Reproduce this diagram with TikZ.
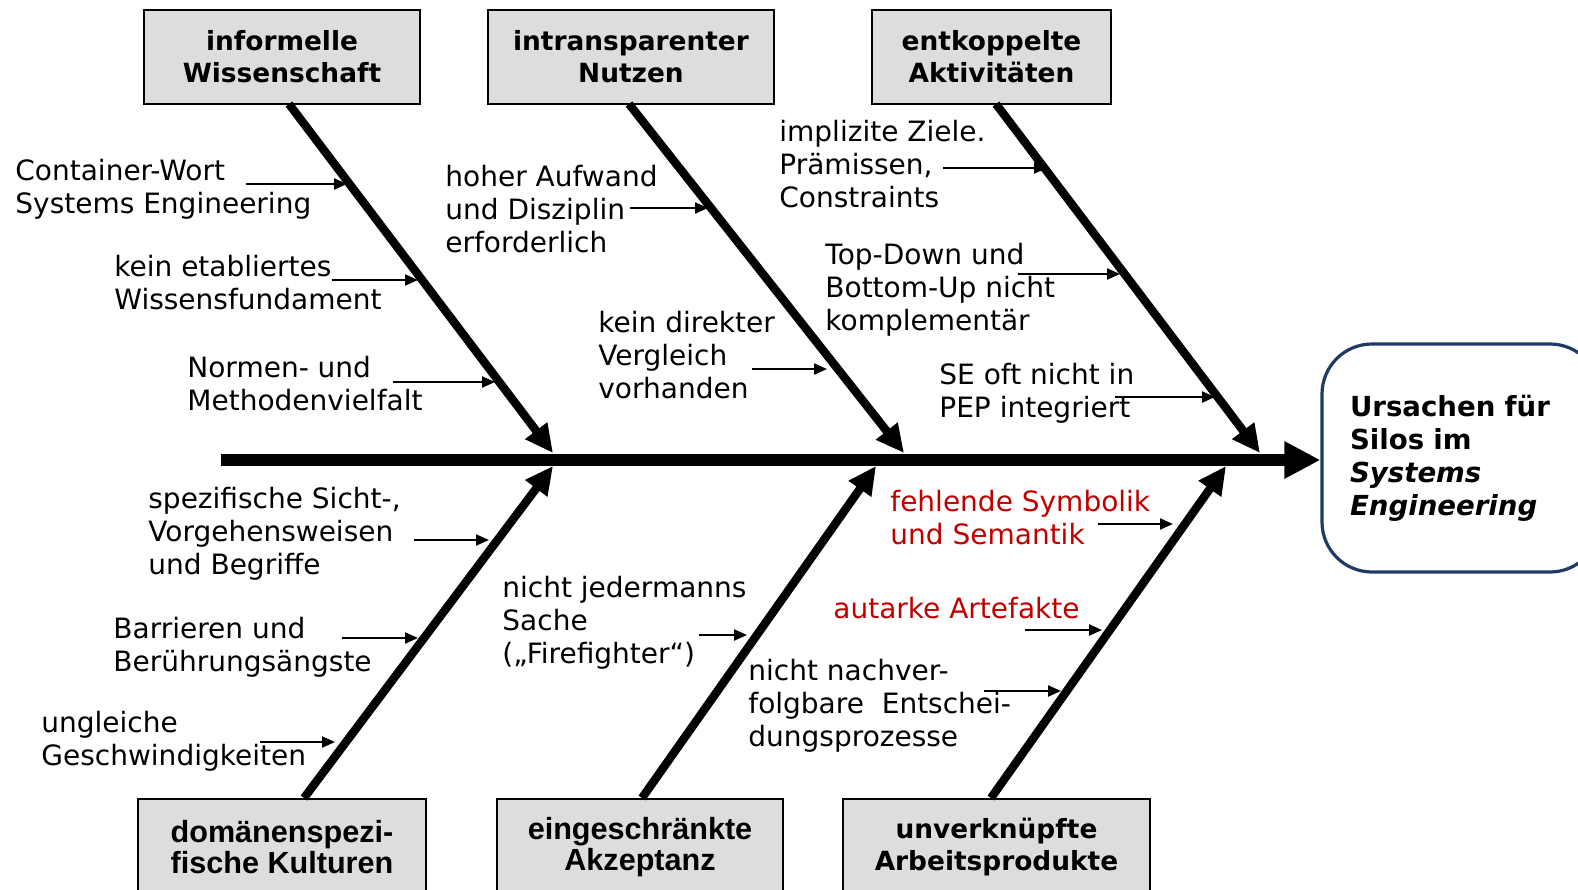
\documentclass[tikz,border=0pt]{standalone}
\usepackage{fontspec}
\setmainfont{DejaVu Sans}
\newfontfamily\narrowbold{Liberation Sans}
\usetikzlibrary{arrows.meta}
\definecolor{boxgrey}{HTML}{DDDDDD}
\definecolor{effblue}{HTML}{1F3B63}
\definecolor{causered}{HTML}{C00000}

\begin{document}
\begin{tikzpicture}[x=0.5pt,y=-0.5pt,
  cause/.style={draw=black, line width=1pt, fill=boxgrey, align=center, inner sep=0pt,
    font=\bfseries\fontsize{13.2}{16}\selectfont},
  causeB/.style={cause, font=\narrowbold\bfseries\fontsize{15.3}{15.5}\selectfont},
  bone/.style={line width=4.2pt, -{Triangle[length=14pt,width=13pt]}},
  spine/.style={line width=6pt, -{Triangle[length=18pt,width=17.5pt]}},
  sub/.style={line width=1.1pt, -{Triangle[length=6.5pt,width=5.5pt]}},
  lbl/.style={anchor=base west, align=left, inner sep=0pt, font=\fontsize{14}{16.5}\selectfont},
  redlbl/.style={lbl, text=causered},
]
\useasboundingbox (0,0) rectangle (1578,889);

% effect box
\node[draw=effblue, line width=1.6pt, rounded corners=25pt, fill=white,
      minimum width=139pt, minimum height=114pt, text width=111pt, inner xsep=14pt,
      align=left, font=\bfseries\fontsize{13.8}{16.5}\selectfont]
  (eff) at (1461,458) {Ursachen für\\Silos im\\\textit{Systems}\\\textit{Engineering}};

% spine
\coordinate (tail) at (221,460);
\draw[spine] (tail) -- (eff.west |- tail);

% main cause boxes
\node[cause, minimum width=138pt, minimum height=47pt] (c1) at (282,57) {informelle\\Wissenschaft};
\node[cause, minimum width=143pt, minimum height=47pt] (c2) at (631,57) {intransparenter\\Nutzen};
\node[cause, minimum width=119.5pt, minimum height=47pt] (c3) at (991.5,57) {entkoppelte\\Aktivitäten};
\node[causeB, minimum width=144pt, minimum height=48pt] (c4) at (282,847) {domänenspezi-\\fische Kulturen};
\node[causeB, minimum width=143pt, minimum height=48pt] (c5) at (640,847) {eingeschränkte\\Akzeptanz};
\node[cause, minimum width=153.5pt, minimum height=48pt] (c6) at (996.5,847) {unverknüpfte\\Arbeitsprodukte};

% bone start and end points
\coordinate (s1) at (289,104);  \coordinate (e1) at (553,453);
\coordinate (s2) at (629,104);  \coordinate (e2) at (904,453);
\coordinate (s3) at (996,104);  \coordinate (e3) at (1260,453);
\coordinate (s4) at (304,798);  \coordinate (e4) at (553,466);
\coordinate (s5) at (642,798);  \coordinate (e5) at (876,466);
\coordinate (s6) at (991,798);  \coordinate (e6) at (1226,466);
\foreach \i in {1,...,6} \draw[bone] (s\i) -- (e\i);

% sub-cause labels (anchored at the baseline of the last line)
\node[lbl] (t1) at (15,213) {Container-Wort\\Systems Engineering};
\node[lbl] (t2) at (114,309) {kein etabliertes\\Wissensfundament};
\node[lbl] (t3) at (187,410) {Normen- und\\Methodenvielfalt};
\node[lbl] (t4) at (445,252) {hoher Aufwand\\und Disziplin\\erforderlich};
\node[lbl] (t5) at (598,398) {kein direkter\\Vergleich\\vorhanden};
\node[lbl] (t6) at (779,207) {implizite Ziele.\\Prämissen,\\Constraints};
\node[lbl] (t7) at (825,330) {Top-Down und\\Bottom-Up nicht\\komplementär};
\node[lbl] (t8) at (939,417) {SE oft nicht in\\PEP integriert};
\node[lbl] (t9) at (148,574) {spezifische Sicht-,\\Vorgehensweisen\\und Begriffe};
\node[lbl] (t10) at (113,671) {Barrieren und\\Berührungsängste};
\node[lbl] (t11) at (41,765) {ungleiche\\Geschwindigkeiten};
\node[lbl] (t12) at (502,663) {nicht jedermanns\\Sache\\(„Firefighter“)};
\node[redlbl] (t13) at (890,544) {fehlende Symbolik\\und Semantik};
\node[redlbl] (t14) at (833,618) {autarke Artefakte};
\node[lbl] (t15) at (748,746) {nicht nachver-\\folgbare\ \ Entschei-\\dungsprozesse};

% sub-cause arrows
\coordinate (a1) at (246,184);  \coordinate (b1) at (347,184);
\coordinate (a2) at (332,280);  \coordinate (b2) at (418,280);
\coordinate (a3) at (393,382);  \coordinate (b3) at (495,382);
\coordinate (a4) at (630,208);  \coordinate (b4) at (708,208);
\coordinate (a5) at (752,369);  \coordinate (b5) at (827,369);
\coordinate (a6) at (943,168);  \coordinate (b6) at (1047,168);
\coordinate (a7) at (1018,274); \coordinate (b7) at (1120,274);
\coordinate (a8) at (1115,397); \coordinate (b8) at (1215,397);
\coordinate (a9) at (414,540);  \coordinate (b9) at (489,540);
\coordinate (a10) at (342,638); \coordinate (b10) at (418,638);
\coordinate (a11) at (260,742); \coordinate (b11) at (335,742);
\coordinate (a12) at (699,635); \coordinate (b12) at (747,635);
\coordinate (a13) at (1098,524); \coordinate (b13) at (1173,524);
\coordinate (a14) at (1025,630); \coordinate (b14) at (1102,630);
\coordinate (a15) at (984,691); \coordinate (b15) at (1061,691);
\foreach \i in {1,...,15} \draw[sub] (a\i) -- (b\i);
\end{tikzpicture}
\end{document}
